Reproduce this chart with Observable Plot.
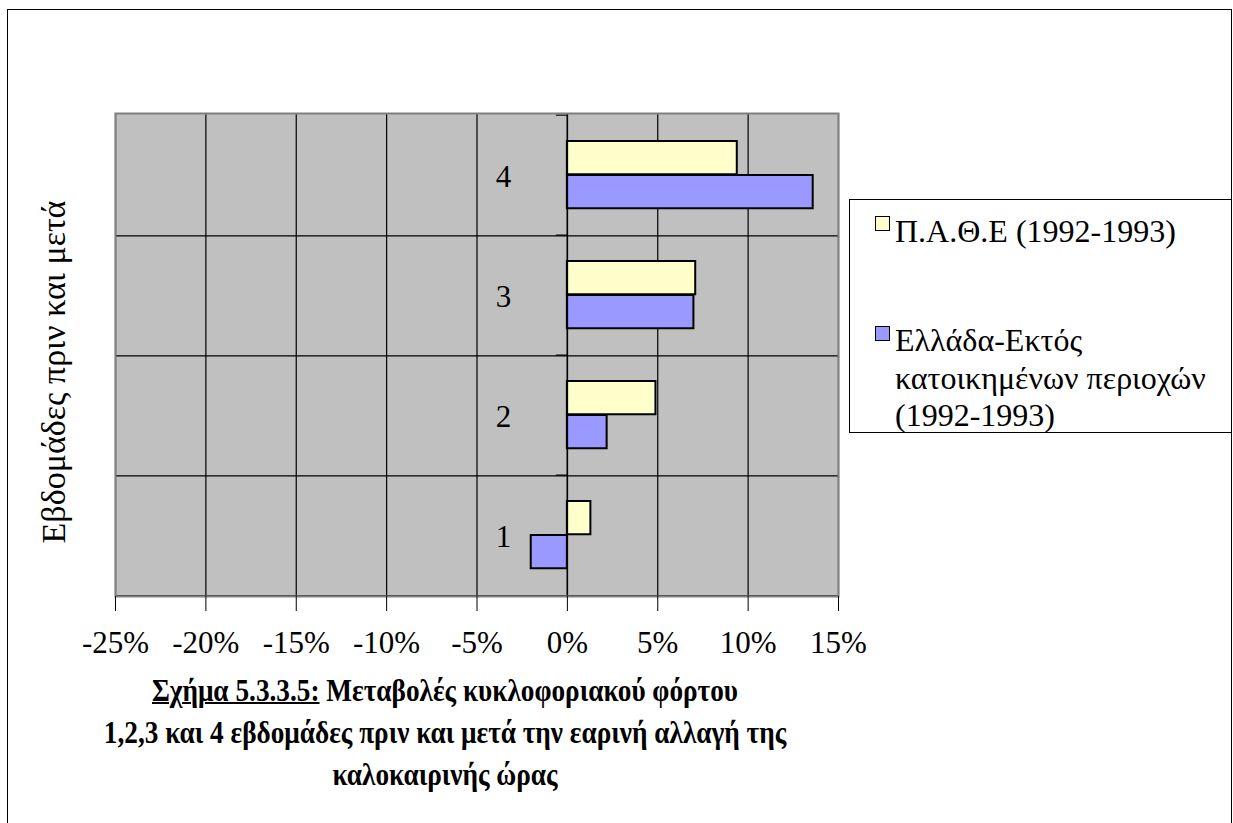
<!DOCTYPE html>
<html>
<head>
<meta charset="utf-8">
<script src="https://cdn.jsdelivr.net/npm/d3@7"></script>
<script src="https://cdn.jsdelivr.net/npm/@observablehq/plot@0.6"></script>
<style>
  html, body { margin: 0; padding: 0; background: #fff; overflow: hidden; }
  body { width: 1233px; height: 823px; position: relative; font-family: "Liberation Serif", Tinos, "Times New Roman", serif; }
  #border { position: absolute; left: 7px; top: 9px; width: 1225px; height: 900px; border: 1.5px solid #000; box-sizing: border-box; }
  #chart { position: absolute; left: 0; top: 0; }
  #ytitle { position: absolute; left: 54px; top: 372px; transform: translate(-50%, -50%) rotate(-90deg); white-space: nowrap; font-size: 34px; line-height: 38px; color: #000; }
  #legend { position: absolute; left: 849px; top: 199px; width: 383px; height: 234px; border: 1px solid #000; box-sizing: border-box; background: #fff; }
  .sw { position: absolute; left: 25px; width: 13px; height: 13px; border: 1px solid #000; }
  .lt { position: absolute; left: 45px; font-size: 32px; line-height: 35px; white-space: nowrap; color: #000; }
  #caption { position: absolute; left: 445px; top: 670px; transform: translateX(-50%) scaleX(0.88); text-align: center; font-weight: bold; font-size: 31px; line-height: 42px; white-space: nowrap; color: #000; }
  #caption u { text-decoration-thickness: 2px; }
</style>
</head>
<body>
<div id="border"></div>
<div id="chart"></div>
<div id="ytitle"></div>
<div id="legend"></div>
<div id="caption"></div>
<script>
// ---- data ----
const weeks = ["1", "2", "3", "4"];
const patheValues = [1.3, 4.9, 7.1, 9.4];      // Π.Α.Θ.Ε (1992-1993), %
const greeceValues = [-2.0, 2.2, 7.0, 13.6];   // Ελλάδα-Εκτός κατοικημένων περιοχών (1992-1993), %
const seriesColors = ["#FFFFCC", "#9999FF"];
const legendLabels = [["Π.Α.Θ.Ε (1992-1993)"], ["Ελλάδα-Εκτός", "κατοικημένων περιοχών", "(1992-1993)"]];
const xTicks = [-25, -20, -15, -10, -5, 0, 5, 10, 15];
const yTitle = "Εβδομάδες πριν και μετά";
const captionLines = ["Μεταβολές κυκλοφοριακού φόρτου", "1,2,3 και 4 εβδομάδες πριν και μετά την εαρινή αλλαγή της", "καλοκαιρινής ώρας"];
const captionPrefix = "Σχήμα 5.3.3.5:";

const patheData = weeks.map((w, i) => ({week: w, value: patheValues[i]}));
const greeceData = weeks.map((w, i) => ({week: w, value: greeceValues[i]}));

const W = 1233, H = 680;
const mL = 115, mR = W - 838, mT = 113, mB = H - 596;
const yDomain = [...weeks].reverse();
const band = (H - mT - mB) / weeks.length;
const FONT = "'Liberation Serif', Tinos, 'Times New Roman', serif";

const chart = Plot.plot({
  width: W,
  height: H,
  marginLeft: mL,
  marginRight: mR,
  marginTop: mT,
  marginBottom: mB,
  style: {fontFamily: FONT, fontSize: "31px", color: "#000", background: "transparent"},
  x: {domain: [xTicks[0], xTicks[xTicks.length - 1]], ticks: xTicks, tickFormat: d => d + "%", label: null},
  y: {domain: yDomain, padding: 0, axis: null, label: null},
  marks: [
    Plot.frame({fill: "#C0C0C0", stroke: null}),
    Plot.ruleX(xTicks, {stroke: "#000", strokeWidth: 1.2}),
    Plot.ruleY(yDomain, {y: d => d, dy: band / 2, stroke: "#000", strokeWidth: 1.2}),
    Plot.ruleY(yDomain, {y: d => d, dy: -band / 2, x1: 0, x2: 0, insetLeft: -11, stroke: "#000", strokeWidth: 1.2}),
    Plot.barX(patheData, {y: "week", x1: 0, x2: "value", fill: seriesColors[0], stroke: "#000", strokeWidth: 2, insetTop: 26, insetBottom: band - 60}),
    Plot.barX(greeceData, {y: "week", x1: 0, x2: "value", fill: seriesColors[1], stroke: "#000", strokeWidth: 2, insetTop: 60, insetBottom: band - 94}),
    Plot.ruleX([0], {stroke: "#000", strokeWidth: 1.5}),
    Plot.text(weeks, {y: d => d, x: 0, text: d => d, dx: -64, dy: 2, textAnchor: "middle", fontSize: 31, fill: "#000", fontFamily: FONT}),
    Plot.frame({stroke: "#808080", strokeWidth: 2}),
    Plot.axisX({ticks: xTicks, tickFormat: d => d + "%", tickSize: 15, tickPadding: 19, fontSize: 31, fontFamily: FONT, label: null, stroke: "#000"})
  ]
});
document.getElementById("chart").appendChild(chart);

document.getElementById("ytitle").textContent = yTitle;

// legend
const legend = document.getElementById("legend");
const swatchTops = [16, 126];
const lineBaselines = [[42], [151, 189, 226]];
legendLabels.forEach((lines, i) => {
  const sw = document.createElement("div");
  sw.className = "sw";
  sw.style.background = seriesColors[i];
  sw.style.top = swatchTops[i] + "px";
  legend.appendChild(sw);
  lines.forEach((txt, j) => {
    const t = document.createElement("div");
    t.className = "lt";
    t.style.top = (lineBaselines[i][j] - 28) + "px";
    t.textContent = txt;
    legend.appendChild(t);
  });
});

document.getElementById("caption").innerHTML =
  "<u>" + captionPrefix + "</u> " + captionLines[0] + "<br>" + captionLines[1] + "<br>" + captionLines[2];
</script>
</body>
</html>
